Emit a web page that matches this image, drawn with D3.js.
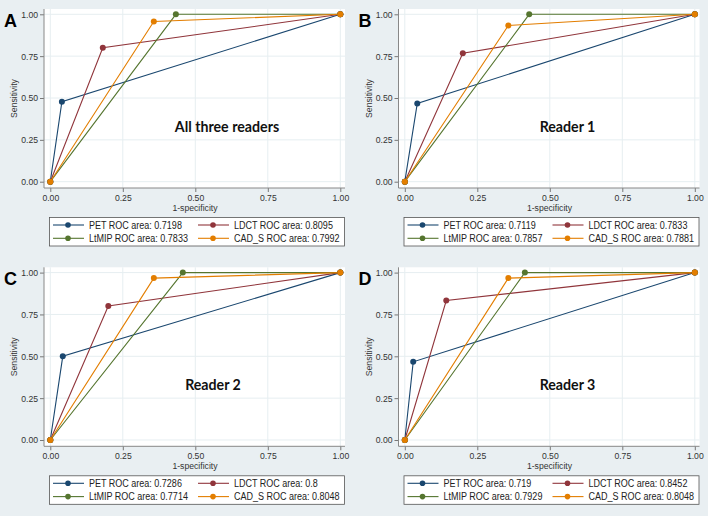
<!DOCTYPE html>
<html><head><meta charset="utf-8">
<script src="https://cdn.jsdelivr.net/npm/d3@7"></script>
<style>
html,body{margin:0;padding:0;background:#e9eff2;}
svg{display:block;}
</style></head>
<body>
<svg id="chart" width="708" height="516"></svg>
<script>
// ---- data ----
const seriesNames = ["PET", "LDCT", "LtMIP", "CAD_S"];
const seriesColors = ["#1a476f", "#90353b", "#55752f", "#e37e00"];
const panelLetters = ["A", "B", "C", "D"];
const panelTitles = ["All three readers", "Reader 1", "Reader 2", "Reader 3"];
// operating point (1-specificity, sensitivity) per series, per panel
const fprA = [0.040, 0.181, 0.433, 0.357];
const sensA = [0.478, 0.800, 1.000, 0.957];
const aucA = ["0.7198", "0.8095", "0.7833", "0.7992"];
const fprB = [0.043, 0.200, 0.429, 0.357];
const sensB = [0.467, 0.767, 1.000, 0.933];
const aucB = ["0.7119", "0.7833", "0.7857", "0.7881"];
const fprC = [0.043, 0.200, 0.457, 0.357];
const sensC = [0.500, 0.800, 1.000, 0.967];
const aucC = ["0.7286", "0.8", "0.7714", "0.8048"];
const fprD = [0.029, 0.143, 0.414, 0.357];
const sensD = [0.467, 0.833, 1.000, 0.967];
const aucD = ["0.719", "0.8452", "0.7929", "0.8048"];
const tickValues = [0, 0.25, 0.5, 0.75, 1];
const tickLabels = ["0.00", "0.25", "0.50", "0.75", "1.00"];
const xTitle = "1-specificity";
const yTitle = "Sensitivity";

const panels = [
  {fpr: fprA, sens: sensA, auc: aucA},
  {fpr: fprB, sens: sensB, auc: aucB},
  {fpr: fprC, sens: sensC, auc: aucC},
  {fpr: fprD, sens: sensD, auc: aucD}
];
const offsets = [[0, 0], [354.5, 0], [0, 258.3], [354.5, 258.3]];

const svg = d3.select("#chart");
svg.append("rect").attr("width", 708).attr("height", 516).attr("fill", "#e9eff2");
const FONT = "'Liberation Sans', Arial, Helvetica, sans-serif";
const TICK_FS = "9.2px";
const LEG_FS = "10px";

function squeeze(sel, ratio) {
  sel.each(function () {
    const w = this.getComputedTextLength();
    d3.select(this).attr("textLength", w * ratio).attr("lengthAdjust", "spacingAndGlyphs");
  });
}

panels.forEach((p, i) => {
  const g = svg.append("g").attr("transform", `translate(${offsets[i][0]},${offsets[i][1]})`);
  const x = d3.scaleLinear().domain([0, 1]).range([50.3, 340.3]);
  const y = d3.scaleLinear().domain([0, 1]).range([181.7, 14.3]);
  const left = 44, right = 345, top = 9, bottom = 188;

  // plot region
  g.append("rect").attr("x", left).attr("y", top).attr("width", right - left).attr("height", bottom - top).attr("fill", "#ffffff");
  // grid
  g.selectAll(".gx").data(tickValues).enter().append("line")
    .attr("x1", d => x(d)).attr("x2", d => x(d)).attr("y1", top).attr("y2", bottom)
    .attr("stroke", "#e6eef1").attr("stroke-width", 1);
  g.selectAll(".gy").data(tickValues).enter().append("line")
    .attr("y1", d => y(d)).attr("y2", d => y(d)).attr("x1", left).attr("x2", right)
    .attr("stroke", "#e6eef1").attr("stroke-width", 1);

  // axes
  const xAxis = d3.axisBottom(x).tickValues(tickValues).tickFormat((d, j) => tickLabels[j]).tickSize(4).tickPadding(2);
  const yAxis = d3.axisLeft(y).tickValues(tickValues).tickFormat((d, j) => tickLabels[j]).tickSize(4).tickPadding(2);
  const gx = g.append("g").attr("transform", `translate(0,${bottom})`).call(xAxis);
  const gy = g.append("g").attr("transform", `translate(${left},0)`).call(yAxis);
  [gx, gy].forEach(a => {
    a.select(".domain").remove();
    a.selectAll("line").attr("stroke", "#777");
    a.selectAll("text").attr("fill", "#333").style("font-family", FONT).style("font-size", TICK_FS);
    squeeze(a.selectAll("text"), 0.94);
  });
  g.append("line").attr("x1", left).attr("x2", left).attr("y1", top).attr("y2", bottom).attr("stroke", "#888");
  g.append("line").attr("x1", left).attr("x2", right).attr("y1", bottom).attr("y2", bottom).attr("stroke", "#888");

  // axis titles
  g.append("text").attr("x", 195).attr("y", 210.5).attr("text-anchor", "middle")
    .attr("fill", "#333").style("font-family", FONT).style("font-size", TICK_FS).text(xTitle)
    .call(squeeze, 0.94);
  g.append("text").attr("transform", `translate(17,${(top + bottom) / 2}) rotate(-90)`).attr("text-anchor", "middle")
    .attr("fill", "#333").style("font-family", FONT).style("font-size", TICK_FS).text(yTitle)
    .call(squeeze, 0.94);

  // series
  const line = d3.line().x(d => x(d[0])).y(d => y(d[1]));
  seriesNames.forEach((s, k) => {
    const pts = [[0, 0], [p.fpr[k], p.sens[k]], [1, 1]];
    g.append("path").datum(pts).attr("d", line).attr("fill", "none")
      .attr("stroke", seriesColors[k]).attr("stroke-width", 1.1);
  });
  seriesNames.forEach((s, k) => {
    const pts = [[0, 0], [p.fpr[k], p.sens[k]], [1, 1]];
    g.selectAll(null).data(pts).enter().append("circle")
      .attr("cx", d => x(d[0])).attr("cy", d => y(d[1])).attr("r", 3)
      .attr("fill", seriesColors[k]);
  });

  // panel letter
  g.append("text").attr("x", 4).attr("y", 27).attr("fill", "#000")
    .style("font-family", FONT).style("font-weight", "bold").style("font-size", "18px").text(panelLetters[i]);
  // annotation
  g.append("text").attr("x", i === 0 ? 227 : 213).attr("y", 132).attr("text-anchor", "middle").attr("fill", "#111")
    .style("font-family", "Lato, 'Open Sans', sans-serif").style("font-weight", "bold").style("font-size", "14.2px")
    .text(panelTitles[i]);

  // legend
  const lg = g.append("g");
  lg.append("rect").attr("x", 49.5).attr("y", 217.5).attr("width", 295).attr("height", 28.5)
    .attr("fill", "#ffffff").attr("stroke", "#555").attr("stroke-width", 0.8);
  const legPos = [[53, 225], [198, 225], [53, 238.3], [198, 238.3]];
  seriesNames.forEach((s, k) => {
    const [lx, ly] = legPos[k];
    lg.append("line").attr("x1", lx).attr("x2", lx + 31).attr("y1", ly).attr("y2", ly)
      .attr("stroke", seriesColors[k]).attr("stroke-width", 1.1);
    lg.append("circle").attr("cx", lx + 15).attr("cy", ly).attr("r", 2.8).attr("fill", seriesColors[k]);
    lg.append("text").attr("x", lx + 36).attr("y", ly + 3.6).attr("fill", "#222")
      .style("font-family", FONT).style("font-size", LEG_FS)
      .text(`${s} ROC area: ${p.auc[k]}`)
      .call(squeeze, 0.9);
  });
});
</script>
</body></html>
